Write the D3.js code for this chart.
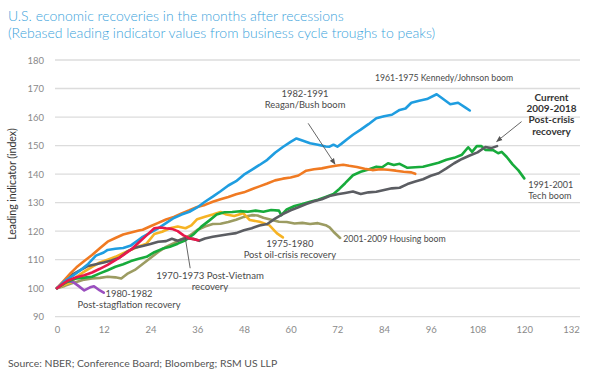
<!DOCTYPE html>
<html><head><meta charset="utf-8">
<script src="https://cdn.jsdelivr.net/npm/d3@7"></script>
<style>body{margin:0;background:#fff}svg{display:block;font-family:Lato,"Open Sans",sans-serif}</style>
</head><body><svg id="c" width="600" height="380"></svg>
<script>
// ---- data ----
const xTicks = [0,12,24,36,48,60,72,84,96,108,120,132];
const yTicks = [90,100,110,120,130,140,150,160,170,180];

const s1961 = [[0,100],[2,102.5],[4,104.3],[6,106.3],[8,108.5],[10,111.4],[12,112.5],[13,113.4],[15,113.8],[17,114.1],[19,115],[21,117],[22,118],[24,119.5],[26,121],[28,122.8],[30,124.6],[32,125.8],[34,126.8],[36,128.3],[38,130.3],[40,132.1],[42,134],[44,136],[46,137.5],[48,139.8],[50,141.5],[52,143.2],[54,145],[56,147.5],[58,149.5],[60,151.3],[61.5,152.5],[63,151.8],[65,150.8],[67,150.3],[69,149.7],[70,149.6],[71,150.3],[72,149.6],[73,150.6],[74.5,152.2],[76,153.8],[78,155.6],[80,157.5],[82,159.6],[84,160.3],[86,160.8],[88,162.5],[89.5,163],[91,165],[93,165.7],[95,166.3],[97.5,168],[99,166.5],[101,164.5],[103,165],[105,163.2],[106,162.3]];
const s1982 = [[0,100],[2,103],[3.5,105.3],[5,107.3],[7,109.5],[9,111.6],[11,114],[13,116.3],[15,117.6],[17,118.8],[19,119.5],[21,120.2],[22,120.5],[24,121.7],[26,122.9],[28,124.1],[30,125],[32,126.2],[34,127.3],[36,128.5],[38,129.2],[40,130.3],[42,131.2],[44,132],[46,132.9],[48,133.6],[50,134.7],[52,135.7],[54,136.7],[56,137.8],[58,138.4],[60,138.8],[62,139.5],[64,141.2],[66,141.7],[68,142],[70,142.6],[72,143],[73.5,143.3],[75,142.9],[77,142.5],[79,141.9],[81,141.4],[83,141.7],[85,141.5],[87,141.2],[89,140.8],[91,140.6],[92,140.1]];
const s1991 = [[0,100],[2,101.8],[4,103],[5,103.4],[7,103.7],[9,104],[11,105.2],[13,106.3],[15,107.5],[17,108.4],[19,109.5],[21,110.3],[23,111],[25,112.6],[27,113.8],[29,114.5],[31,115.6],[33,116.8],[35,118.8],[37,121.5],[39,123.6],[41,125.8],[43,126.6],[45,126.7],[47,127],[49,126.8],[51,127.2],[53,126.8],[55,127.4],[57,127.2],[57.6,125.6],[59,127.6],[61,128.8],[63,129.5],[65,130.3],[67,131],[69,132],[71,133],[72.5,134.8],[74,136.8],[76,139.6],[78,140.8],[80,141.6],[82,142.6],[83.5,142.4],[85,143.8],[86.5,143.2],[88,143.6],[90,142.2],[92,142.4],[94,142.6],[96,143.3],[98,144],[100,145],[102,145.7],[104,146.8],[105.6,149.4],[106.6,147.8],[107.8,149.8],[109,149.8],[110,148.5],[112,148.4],[113.3,147.3],[114.2,147.8],[115.5,146],[117,143.4],[118.5,141.3],[120,138.5]];
const s2009 = [[0,100],[2,102.5],[4,104.8],[6,106.3],[8,107.8],[10,108.4],[12,109],[14,109.7],[16,110.7],[18,112.8],[20,114.2],[22,114.8],[24,115.5],[26,116.3],[28,116.5],[29.5,117.3],[31,116.6],[33,117.5],[35,117.3],[36.5,116.6],[38,117.4],[40,118],[42,118.5],[44,118.9],[46,119.3],[48,120.3],[50,121],[52,122],[54,122.5],[56,124.4],[58,126],[60,127.3],[62,128.4],[64,129.5],[66,130.5],[68,131.2],[70,132.3],[72,132.9],[74,133.4],[76,133.9],[78,133],[80,133.6],[82,133.8],[84,134.4],[86,135],[88,135.2],[90,136.5],[92,137.4],[94,138.2],[96,139.4],[98,140.3],[100,142],[102,143.8],[104,145.3],[106,146.5],[108,147.6],[110,149.5],[111.5,149.1],[113,149.8]];
const s1970 = [[0,100],[1.5,101.5],[3,102.8],[5,103.8],[7,104.5],[9,105.5],[11,106.8],[13,108.2],[15,109.8],[17,111.6],[19,113.5],[21,116],[23,118.5],[25,121],[26.5,121.3],[28,121],[29.5,120.8],[31,120],[32.5,118.5],[34,117.5],[35,117.2],[36.3,116.8]];
const s1975 = [[0,100],[2,101.3],[3.5,102],[5,104],[7,105.8],[9,107.5],[11,109],[13,110],[15,111],[17,112.3],[19,113.5],[21,114.6],[23,115.6],[25,119],[27,119.8],[29,121],[31,121.6],[33,121],[34.5,122],[36,124.2],[38,125],[40,125.8],[42,126.7],[43.5,125.8],[45.5,125.3],[47.8,126.3],[49.5,123.9],[52,123.3],[54.5,122.1],[56.5,119.2],[58,117.8]];
const s2001 = [[0,100],[2,100.8],[4,101.8],[5,102.2],[7,103],[9,103.4],[11,103.6],[13,104],[15,103.8],[16.5,103.4],[18,105],[20,106.4],[22,108.5],[24,110.6],[26,112.7],[28,114.5],[30,115.8],[32,117.2],[34,118.4],[36,120.4],[38,121.6],[40,122.5],[42,122.6],[44,123.2],[46,124],[48,125],[50,125.6],[51.5,125.5],[53,124.7],[55,124],[57,123.3],[59,123.2],[61,122.7],[63,122.9],[65,122.5],[67,122.8],[69,122.1],[70,121.3],[71,119.8],[72.7,117.6]];
const s1980 = [[0,100],[1.5,101.3],[2.5,102.3],[4,102.3],[5.5,100.8],[7,99.2],[8.5,100.3],[9.5,100.7],[11,99.2],[12,98.4]];

const seriesNames = ["2001-2009","1975-1980","1980-1982","1991-2001","2009-2018","1982-1991","1961-1975","1970-1973"];
const seriesData = [s2001,s1975,s1980,s1991,s2009,s1982,s1961,s1970];
const seriesColors = ["#9c9c62","#f6b324","#9a4fbf","#17ab3b","#5b5d62","#f07a22","#1f9de0","#e8184b"];

// ---- layout ----
const svg = d3.select("#c");
const x = d3.scaleLinear().domain([0,132]).range([57,571]);
const y = d3.scaleLinear().domain([90,180]).range([316.7,60]);

// title
svg.append("text").attr("x",8).attr("y",21).attr("fill","#3aa3db").attr("font-size",14).attr("font-weight",300)
  .text("U.S. economic recoveries in the months after recessions");
svg.append("text").attr("x",8).attr("y",38).attr("fill","#3aa3db").attr("font-size",14).attr("font-weight",300)
  .text("(Rebased leading indicator values from business cycle troughs to peaks)");

// gridlines
svg.append("g").selectAll("line").data(yTicks).join("line")
  .attr("x1",55).attr("x2",580).attr("y1",d=>y(d)).attr("y2",d=>y(d))
  .attr("stroke","#dcdcdc").attr("stroke-width",1.3);

// y axis
const yAxis = svg.append("g").attr("transform","translate(44,0)")
  .call(d3.axisLeft(y).tickValues(yTicks).tickSize(0).tickPadding(0));
yAxis.select(".domain").remove();
yAxis.selectAll("text").attr("fill","#8a8a8a").attr("font-size",9.5).attr("font-family","Lato,sans-serif");

// x axis
const xAxis = svg.append("g").attr("transform","translate(0,326)")
  .call(d3.axisBottom(x).tickValues(xTicks).tickSize(0).tickPadding(0));
xAxis.select(".domain").remove();
xAxis.selectAll("text").attr("fill","#8a8a8a").attr("font-size",9.5).attr("font-family","Lato,sans-serif");

// y title
svg.append("text").attr("transform","translate(16,184) rotate(-90)").attr("text-anchor","middle")
  .attr("fill","#333").attr("font-size",10.5).text("Leading indicator (index)");

// lines
const line = d3.line().x(d=>x(d[0])).y(d=>y(d[1])).curve(d3.curveLinear);
svg.append("g").selectAll("path").data(seriesData).join("path")
  .attr("d",line).attr("fill","none").attr("stroke",(d,i)=>seriesColors[i])
  .attr("stroke-width",2.6).attr("stroke-linejoin","round").attr("stroke-linecap","round");

// arrows
const defs = svg.append("defs");
defs.append("marker").attr("id","ah").attr("viewBox","0 0 10 10").attr("refX",9).attr("refY",5)
  .attr("markerWidth",7).attr("markerHeight",7).attr("orient","auto")
  .append("path").attr("d","M0,1 L10,5 L0,9 z").attr("fill","#555");
const arrows = [
  {from:[64.5,157.8],to:[71.4,143.5],head:true},
  {from:[119.3,158.4],to:[112.9,151.4],head:true},
  {from:[34.2,107],to:[32.9,118],head:false}
];
svg.append("g").selectAll("line").data(arrows).join("line")
  .attr("x1",d=>x(d.from[0])).attr("y1",d=>y(d.from[1]))
  .attr("x2",d=>x(d.to[0])).attr("y2",d=>y(d.to[1]))
  .attr("stroke","#555").attr("stroke-width",0.9)
  .attr("marker-end",d=>d.head?"url(#ah)":null);

// annotations
const notes = [
  {m:99.4,v:174,anchor:"middle",size:8.7,lines:["1961-1975 Kennedy/Johnson boom"]},
  {m:63.7,v:168.4,anchor:"middle",size:9.4,lines:["1982-1991","Reagan/Bush boom"]},
  {m:127,v:166.9,anchor:"middle",size:10,bold:true,lines:["Current","2009-2018","Post-crisis","recovery"]},
  {m:121,v:136.5,anchor:"start",size:9,lines:["1991-2001","Tech boom"]},
  {m:73.5,v:117.5,anchor:"start",size:8.8,lines:["2001-2009 Housing boom"]},
  {m:59.8,v:115.7,anchor:"middle",size:9.4,lines:["1975-1980","Post oil-crisis recovery"]},
  {m:39.3,v:104.6,anchor:"middle",size:9.6,lines:["1970-1973 Post-Vietnam","recovery"]},
  {m:18.5,v:98.2,anchor:"middle",size:9.4,lines:["1980-1982","Post-stagflation recovery"]}
];
notes.forEach(n=>{
  const t = svg.append("text").attr("text-anchor",n.anchor)
    .attr("fill",n.bold?"#333":"#4a4a4a").attr("font-size",n.size)
    .attr("font-weight",n.bold?700:400);
  n.lines.forEach((s,i)=>{
    t.append("tspan").attr("x",x(n.m)).attr("y",y(n.v)+3.5+i*(n.bold?11.3:11.5)).text(s);
  });
});

// source
svg.append("text").attr("x",8).attr("y",367).attr("fill","#555").attr("font-size",10.4)
  .text("Source: NBER; Conference Board; Bloomberg; RSM US LLP");
</script></body></html>
